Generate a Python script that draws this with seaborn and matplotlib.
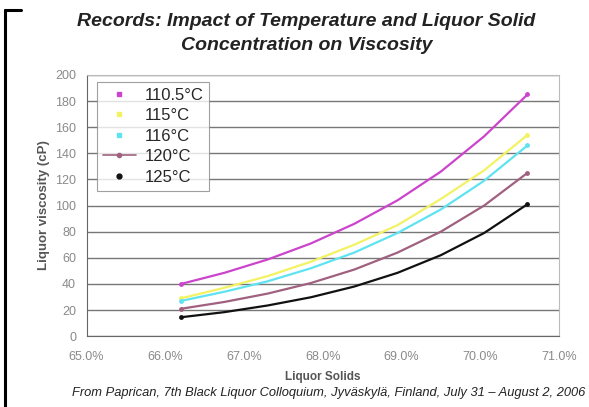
import numpy as np
import pandas as pd
import seaborn as sns
import matplotlib.pyplot as plt
import matplotlib.ticker as ticker
from matplotlib.lines import Line2D

# liquor solids (%) at which the curves are read
solids = [66.2, 66.75, 67.3, 67.85, 68.4, 68.95, 69.5, 70.05, 70.6]

visc_1105 = [40, 48.5, 58.7, 71, 86, 104, 126, 153, 185]
visc_115 = [29, 37, 46, 57, 70, 85, 105, 127, 154]
visc_116 = [27, 34, 42, 52, 64, 79, 97, 119, 146]
visc_120 = [21, 26.2, 32.6, 40.7, 51, 64, 80, 100, 125]
visc_125 = [14.5, 18.4, 23.5, 29.8, 38, 48.5, 62, 79, 101]

labels = ["110.5°C", "115°C", "116°C", "120°C", "125°C"]
colors = ["#cc44cc", "#f2f262", "#5fe3f0", "#a0607f", "#111111"]
series = [visc_1105, visc_115, visc_116, visc_120, visc_125]

rows = []
for lab, vals in zip(labels, series):
    for s, v in zip(solids, vals):
        rows.append({"Liquor Solids": s, "Viscosity": v, "Temp": lab})
df = pd.DataFrame(rows)

sns.set_style("white")
plt.rcParams["font.family"] = ["Liberation Sans", "DejaVu Sans"]

fig = plt.figure(figsize=(5.89, 4.07), dpi=100)
ax = fig.add_axes([0.147, 0.174, 0.802, 0.642])

n = len(solids)
for lab, col in zip(labels, colors):
    sns.lineplot(data=df[df["Temp"] == lab], x="Liquor Solids", y="Viscosity",
                 color=col, lw=1.6, marker="o", markersize=3.5,
                 markevery=[0, n - 1], markeredgewidth=0, ax=ax, legend=False)

ax.set_xlim(65, 71)
ax.set_ylim(0, 200)
ax.xaxis.set_major_locator(ticker.MultipleLocator(1))
ax.yaxis.set_major_locator(ticker.MultipleLocator(20))
ax.xaxis.set_major_formatter(ticker.FuncFormatter(lambda v, p: f"{v:.1f}%"))
ax.grid(axis="y", color="#777777", lw=1.0)
ax.set_axisbelow(True)
for side in ["left", "bottom"]:
    ax.spines[side].set_color("#666666")
for side in ["top", "right"]:
    ax.spines[side].set_color("#bbbbbb")
ax.tick_params(axis="both", direction="inout", length=5, color="#666666",
               labelsize=9, labelcolor="#8a8a8a", pad=5)
ax.tick_params(axis="x", pad=8)

ax.set_xlabel("Liquor Solids", fontsize=8.5, fontweight="bold", color="#555555",
              labelpad=6)
ax.set_ylabel("Liquor viscosity (cP)", fontsize=9.5, fontweight="bold",
              color="#555555", labelpad=4)

handles = []
for lab, col in zip(labels, colors):
    if lab == "120°C":
        h = Line2D([], [], color=col, lw=1.2, marker="o", markersize=3)
    else:
        h = Line2D([], [], color=col, lw=0, marker="s" if lab != "125°C" else "o",
                   markersize=3.5)
    handles.append(h)
leg = ax.legend(handles=handles, labels=labels, loc="upper left",
                bbox_to_anchor=(0.022, 0.973), borderaxespad=0, fontsize=12,
                frameon=True, fancybox=False, edgecolor="#888888",
                handlelength=2.0, handletextpad=0.5, labelspacing=0.33,
                borderpad=0.35)
leg.get_frame().set_linewidth(0.8)

fig.text(0.52, 0.946, "Records: Impact of Temperature and Liquor Solid",
         ha="center", va="center", fontsize=14, fontweight="bold",
         style="italic", color="#222222")
fig.text(0.52, 0.889, "Concentration on Viscosity",
         ha="center", va="center", fontsize=14, fontweight="bold",
         style="italic", color="#222222")
fig.text(0.558, 0.035,
         "From Paprican, 7th Black Liquor Colloquium, Jyväskylä, Finland, July 31 – August 2, 2006",
         ha="center", va="center", fontsize=9.3, style="italic", color="#222222")

# partial black frame of the original slide
fig.add_artist(Line2D([0.009, 0.009], [0.0, 0.975], color="black", lw=2.2))
fig.add_artist(Line2D([0.009, 0.035], [0.975, 0.975], color="black", lw=2.2))

fig.savefig("out.png", dpi=100)
